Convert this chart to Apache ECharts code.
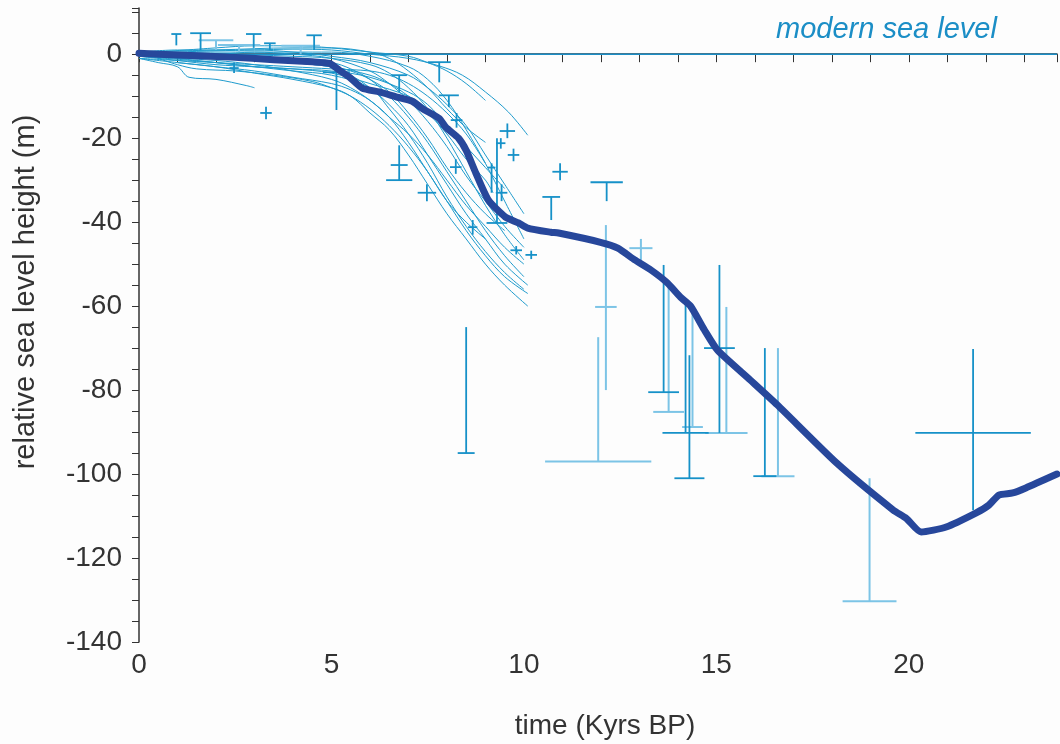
<!DOCTYPE html>
<html><head><meta charset="utf-8">
<script src="https://cdn.jsdelivr.net/npm/echarts@6/dist/echarts.min.js"></script>
<style>html,body{margin:0;padding:0;background:#fdfdfd}#c{width:1060px;height:744px}</style>
</head><body><div id="c"></div>
<script>
// Axis ranges / tick labels
const xTickLabels = [0, 5, 10, 15, 20];
const yTickLabels = [0, -20, -40, -60, -80, -100, -120, -140];

// Thick reconstructed sea-level curve [time kyr BP, height m]
const mainCurve = [[0,0.2],[1,-0.2],[2.37,-0.7],[3.5,-1.3],[4.5,-1.8],[4.95,-2.2],[5.2,-3.8],[5.47,-5.5],[5.8,-8.1],[6.24,-9],[6.7,-10.2],[7.1,-11.2],[7.35,-12.9],[7.8,-15.3],[7.97,-17.4],[8.3,-20],[8.5,-22.9],[8.75,-28.3],[9.08,-34.8],[9.52,-38.8],[9.86,-40.2],[10.1,-41.4],[10.7,-42.4],[10.9,-42.6],[11.99,-44.8],[12.44,-46.2],[12.88,-49],[13.3,-51.4],[13.73,-54.5],[14.07,-57.9],[14.33,-60],[14.69,-65.7],[15.03,-70.5],[15.88,-77.6],[16.58,-83.5],[18.13,-97.4],[19.6,-108.6],[19.93,-110.5],[20.32,-113.8],[20.97,-112.6],[21.74,-109.3],[22.08,-107.4],[22.34,-105],[22.7,-104.5],[23.04,-103.3],[23.85,-100]];

// Thin regional model curves
const thin01 = [[0,0],[1,0.5],[2,0.8],[3,1],[4,1.2],[5,1],[6,0],[7,-1],[7.8,-2.8],[8.4,-5],[9,-9],[9.6,-13.8],[10.1,-19.3]];
const thin02 = [[0,0.5],[2,1],[4,1.5],[5,1.5],[6,0.5],[6.5,-1],[7,-4],[7.5,-8],[8,-13],[8.5,-17.5],[9,-21]];
const thin03 = [[0,0],[2,0.5],[4,0.5],[5,0.5],[6,-0.5],[7,-3],[7.5,-6],[8,-11],[8.5,-18],[9,-26],[9.5,-35],[10,-44]];
const thin04 = [[0,0],[2,0],[4,-0.5],[5,-1],[6,-2.5],[6.5,-4.5],[7,-8],[7.5,-13],[8,-20],[8.5,-28],[9,-36],[9.5,-43],[10,-49]];
const thin05 = [[0,-0.5],[2,-1],[4,-1.5],[5,-2],[5.5,-3.5],[6,-6],[6.5,-10],[7,-15],[7.5,-21],[8,-28],[8.5,-35],[9,-42],[9.5,-48],[10,-53]];
const thin06 = [[0,0],[2,-0.5],[4,-1.5],[5,-3],[5.5,-5],[6,-8],[6.5,-12],[7,-17],[7.5,-24],[8,-31],[8.5,-38],[9,-44],[9.5,-50],[10.1,-55]];
const thin07 = [[0,-0.5],[2,-1.5],[3,-2.5],[4,-4],[5,-6],[5.5,-8],[6,-11],[6.5,-15],[7,-21],[7.5,-28],[8,-35],[8.5,-42],[9,-48],[9.5,-53],[10.1,-57]];
const thin08 = [[0,-1],[1,-2],[2,-3],[3,-4.5],[4,-6],[5,-8],[5.5,-10],[6,-14],[6.5,-18],[7,-24],[7.5,-31],[8,-38],[8.5,-44],[9,-50],[9.5,-55],[10.1,-60]];
const thin09 = [[0,-0.5],[2,-2],[4,-4],[5,-5],[6,-8],[6.5,-13],[7,-19],[7.5,-26],[8,-34],[8.5,-41],[9,-47],[9.5,-52],[10,-56]];
const thin10 = [[0,0],[2,0],[3,0.5],[4,0],[5,-1],[6,-4],[6.5,-7],[7,-11],[7.5,-16],[8,-22],[8.5,-29],[9,-35],[9.5,-41],[10,-46]];
const thin11 = [[0,-1],[0.5,-2],[1,-3],[1.3,-5.5],[2,-6],[2.8,-7.5],[3,-8]];
const thin12 = [[0,0],[1,-1],[2,-2],[3,-3],[4,-3.5],[5,-4.5],[6,-7],[7,-10],[7.5,-13],[8,-17],[8.5,-22],[9,-27],[9.5,-32]];
const thin13 = [[0,0.5],[1,1],[2,1],[3,1],[4,0.5],[5,-0.5],[6,-2],[7,-5],[7.5,-8],[8,-12],[8.5,-17],[9,-24],[9.5,-31],[10,-38]];
const thin14 = [[0,-0.5],[1,-1.5],[2,-2.5],[3,-3],[4,-3.5],[5,-4],[6,-5.5],[7,-9],[7.5,-12],[8,-17],[8.3,-20]];
const thin15 = [[1,-2],[2,-3],[3,-4],[4,-5.5],[5,-7],[5.5,-8.5],[6,-11],[6.5,-15],[7,-19],[7.5,-24],[8,-30],[8.5,-36],[9,-41],[9.5,-46],[10,-50]];
const thin16 = [[0,0],[2,-0.5],[4,-2],[5,-3],[5.5,-4],[6,-6],[6.5,-9],[7,-14],[7.5,-20],[8,-27],[8.5,-33],[9,-38],[9.5,-42]];
const thin17 = [[0,0],[1,0],[2,-0.5],[3,-1],[4,-2],[5,-3],[6,-5],[6.5,-7],[7,-10],[7.5,-14],[8,-19],[8.5,-25],[9,-30],[9.2,-33]];
const thin18 = [[0.5,0.5],[2,1.5],[3,2],[4,2],[5,1.5],[6,0.5],[7,-0.5],[7.5,-2],[8,-4],[8.5,-7],[9,-11]];
const thin19 = [[0.5,-1],[1,-2.5],[1.5,-3.5],[2.5,-4],[3.5,-5],[4.5,-6.5],[5,-8],[5.5,-10],[6,-13],[6.5,-17],[7,-22],[7.5,-28],[8,-35],[8.5,-40],[9,-44]];
const thin20 = [[0,-1],[1,-1.5],[2,-2],[3,-2.5],[4,-3],[5,-3.5],[6,-4],[6.5,-5],[7,-7],[7.5,-10],[8,-14],[8.5,-19],[9,-26]];
const thinCurves = [thin01,thin02,thin03,thin04,thin05,thin06,thin07,thin08,thin09,thin10,thin11,thin12,thin13,thin14,thin15,thin16,thin17,thin18,thin19,thin20];

// Data points with error bars: [time, height at horizontal bar, time half-error, height low, height high]
const pointsDark = [
  [8.5,-95,0.22,-95,-65],[12.15,-30.5,0.42,-35,-30.5],[10.71,-34,0.23,-39.5,-34],[10.94,-28,0.2,-30,-26],
  [13.63,-80.5,0.4,-80.5,-50.2],[14.3,-101,0.39,-101,-71.7],[14.2,-90.2,0.6,-90.2,-59.3],[15.08,-70,0.4,-90.2,-50.2],
  [16.26,-100.5,0.3,-100.5,-70],[21.67,-90.2,1.5,-108.6,-70.2],
  [0.97,4.8,0.13,2.1,4.8],[1.6,5,0.27,1,5],[2.98,4.8,0.2,1.5,4.8],[4.55,4.5,0.2,1,4.5],[3.4,2.6,0.15,1,2.6],
  [3.3,-14,0.15,-15.5,-12.5],[2.47,-3.3,0.12,-4.5,-2],[7.8,-1.9,0.3,-6.7,-1.9],[8.05,-9.8,0.26,-12.6,-9.8],
  [8.25,-15.7,0.15,-17.5,-14],[9.57,-18.3,0.2,-20,-16.5],[9.73,-24,0.15,-25.5,-22.5],[9.3,-40.2,0.27,-40.2,-20],
  [9.4,-21.2,0.12,-22.5,-20],[9.42,-33,0.15,-35,-31],[6.76,-30,0.34,-30,-21.7],[6.76,-26.4,0.22,-26.4,-26.4],
  [7.48,-33,0.24,-35,-31],[9.16,-27,0.1,-33,-26],[8.23,-26.9,0.15,-28.5,-25],[8.67,-41.2,0.12,-43,-39.5],
  [9.8,-46.7,0.15,-47.7,-45.7],[10.19,-47.8,0.15,-48.8,-46.8],[5.13,-4.3,0.35,-13.3,-4.3],[6.76,-5,0.2,-9,-5]
];
const pointsLight = [
  [12.13,-60.2,0.28,-80,-40.7],[13.04,-46.2,0.3,-49,-44],[13.76,-85.2,0.4,-85.2,-55.7],[14.38,-88.8,0.27,-88.8,-59.8],
  [15.26,-90.2,0.55,-90.2,-60.2],[16.6,-100.5,0.43,-100.5,-70],[18.98,-130.3,0.7,-130.3,-101],[11.93,-97,1.38,-97,-67.4],
  [2.0,3.3,0.45,1,3.3],[2.6,2.2,0.55,0.5,2.2],[4.2,2,0.5,0,2]
];

const zeroLine = [[0,0],[23.85,0]];

const chart = echarts.init(document.getElementById('c'), null, {renderer:'canvas'});
const FONT = 'Liberation Sans';
const CURVE = '#1e9bcd';

function errRender(color, width){
  return function(params, api){
    const x=api.value(0), y=api.value(1), dx=api.value(2), ylo=api.value(3), yhi=api.value(4);
    const l=api.coord([x-dx,y]), r=api.coord([x+dx,y]), b=api.coord([x,ylo]), t=api.coord([x,yhi]);
    return {type:'group', children:[
      {type:'line', shape:{x1:l[0],y1:l[1],x2:r[0],y2:r[1]}, style:{stroke:color,lineWidth:width}},
      {type:'line', shape:{x1:b[0],y1:b[1],x2:t[0],y2:t[1]}, style:{stroke:color,lineWidth:width}}
    ]};
  };
}

const series = [];
series.push({type:'line', data:zeroLine, symbol:'none', silent:true, lineStyle:{color:'#1b8ec6', width:1.5}, z:1});
thinCurves.forEach(c => series.push({type:'line', data:c, symbol:'none', smooth:0.35, silent:true, lineStyle:{color:CURVE, width:1}, z:2}));
series.push({type:'custom', data:pointsLight, renderItem:errRender('#7cc4e6',2), encode:{x:0,y:1}, z:3, silent:true});
series.push({type:'custom', data:pointsDark, renderItem:errRender('#1691c8',1.8), encode:{x:0,y:1}, z:4, silent:true});
series.push({type:'line', data:mainCurve, symbol:'none', smooth:0.2, silent:true, lineStyle:{color:'#27479b', width:7, cap:'round', join:'round'}, z:5});

chart.setOption({
  backgroundColor:'#fdfdfd',
  animation:false,
  grid:{left:139, right:0, top:8, bottom:102},
  xAxis:{type:'value', min:0, max:23.85, interval:1,
    axisLine:{lineStyle:{color:'#333', width:1.5}},
    axisTick:{length:8, lineStyle:{color:'#333'}},
    axisLabel:{color:'#333', fontFamily:FONT, fontSize:28, margin:9,
      formatter:v => xTickLabels.includes(v) ? String(v) : ''},
    splitLine:{show:false}},
  yAxis:{type:'value', min:-140, max:11, interval:5,
    axisLine:{show:true, lineStyle:{color:'#333', width:1.5}},
    axisTick:{show:true, length:7, lineStyle:{color:'#333'}},
    axisLabel:{color:'#333', fontFamily:FONT, fontSize:28, margin:17,
      formatter:v => yTickLabels.includes(v) ? String(v) : ''},
    splitLine:{show:false}},
  graphic:[
    {type:'text', left:776, top:15, style:{text:'modern sea level', fill:'#1b8ec6', font:'italic 29px "Liberation Sans"'}},
    {type:'text', x:605, y:726, style:{text:'time (Kyrs BP)', fill:'#333', font:'28px "Liberation Sans"', textAlign:'center', textVerticalAlign:'middle'}},
    {type:'text', x:26, y:292, rotation:Math.PI/2, style:{text:'relative sea level height (m)', fill:'#333', font:'29px "Liberation Sans"', textAlign:'center', textVerticalAlign:'middle'}}
  ],
  series
});
</script></body></html>
